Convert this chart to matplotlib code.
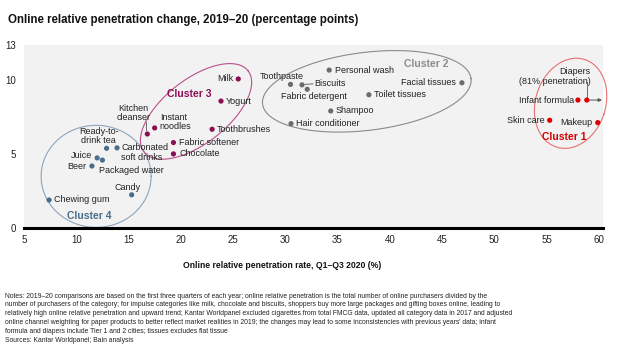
import matplotlib
matplotlib.use("Agg")
import matplotlib.pyplot as plt
import numpy as np

plt.rcParams['font.family'] = ['Liberation Sans', 'DejaVu Sans']

# ---------------- data ----------------
names = ["Chewing gum", "Candy", "Beer", "Juice", "Packaged water",
         "Ready-to-\ndrink tea", "Carbonated\nsoft drinks",
         "Kitchen\ncleanser", "Instant\nnoodles", "Fabric softener", "Chocolate",
         "Toothbrushes", "Yogurt", "Milk",
         "Toothpaste", "Biscuits", "Fabric detergent", "Personal wash",
         "Hair conditioner", "Shampoo", "Toilet tissues", "Facial tissues",
         "Infant formula", "Diapers\n(81% penetration)", "Skin care", "Makeup"]
penetration_rate = [7.4, 15.3, 11.5, 12.0, 12.5, 12.9, 13.9,
                    16.8, 17.5, 19.3, 19.3, 23.0, 23.85, 25.5,
                    30.5, 31.6, 32.1, 34.2, 30.55, 34.35, 38.0, 46.9,
                    58.0, 58.85, 55.3, 59.9]
penetration_change = [1.9, 2.25, 4.2, 4.75, 4.6, 5.4, 5.43,
                      6.37, 6.78, 5.79, 5.02, 6.69, 8.6, 10.1,
                      9.73, 9.7, 9.4, 10.7, 7.07, 7.93, 9.03, 9.84,
                      8.67, 8.67, 7.3, 7.14]
cluster = [4, 4, 4, 4, 4, 4, 4,
           3, 3, 3, 3, 3, 3, 3,
           2, 2, 2, 2, 2, 2, 2, 2,
           1, 1, 1, 1]
cluster_names = {1: "Cluster 1", 2: "Cluster 2", 3: "Cluster 3", 4: "Cluster 4"}

xticks = [5, 10, 15, 20, 25, 30, 35, 40, 45, 50, 55, 60]
ytick_pos = [0, 5, 10, 12.4]
ytick_labels = ["0", "5", "10", "13"]

title = "Online relative penetration change, 2019\u201320 (percentage points)"
xlabel = "Online relative penetration rate, Q1\u2013Q3 2020 (%)"
notes = [
    "Notes: 2019\u201320 comparisons are based on the first three quarters of each year; online relative penetration is the total number of online purchasers divided by the",
    "number of purchasers of the category; for impulse categories like milk, chocolate and biscuits, shoppers buy more large packages and gifting boxes online, leading to",
    "relatively high online relative penetration and upward trend; Kantar Worldpanel excluded cigarettes from total FMCG data, updated all category data in 2017 and adjusted",
    "online channel weighting for paper products to better reflect market realities in 2019; the changes may lead to some inconsistencies with previous years' data; infant",
    "formula and diapers include Tier 1 and 2 cities; tissues excludes flat tissue",
    "Sources: Kantar Worldpanel; Bain analysis",
]

# ---------------- styles ----------------
dot_colors = {1: "#e00000", 2: "#6b6b6b", 3: "#8c0f55", 4: "#4a6e8a"}
edge_colors = {1: "#e87070", 2: "#8a8a8a", 3: "#b8508a", 4: "#8ca5bd"}
clabel_colors = {1: "#d40000", 2: "#8c8c8c", 3: "#8c0f55", 4: "#4a6e8a"}

# label offsets in pixels (dx, dy up), ha
label_style = {
    "Chewing gum": (5, 0, "left"),
    "Candy": (-4, 7, "center"),
    "Beer": (-6, 0, "right"),
    "Juice": (-5, 2, "right"),
    "Packaged water": (-3, -10, "left"),
    "Ready-to-\ndrink tea": (-8, 12.5, "center"),
    "Carbonated\nsoft drinks": (4, -4.5, "left"),
    "Kitchen\ncleanser": (-14, 21, "center"),
    "Instant\nnoodles": (5, 5.7, "left"),
    "Fabric softener": (6, 0, "left"),
    "Chocolate": (6, 0, "left"),
    "Toothbrushes": (5, 0, "left"),
    "Yogurt": (5, 0, "left"),
    "Milk": (-5, 0, "right"),
    "Toothpaste": (-9, 8, "center"),
    "Biscuits": (12, 1, "left"),
    "Fabric detergent": (7, -7, "center"),
    "Personal wash": (5.5, 0, "left"),
    "Hair conditioner": (5.3, 0, "left"),
    "Shampoo": (5.3, 0, "left"),
    "Toilet tissues": (5.3, 0, "left"),
    "Facial tissues": (-6, 0, "right"),
    "Infant formula": (-4, 0, "right"),
    "Diapers\n(81% penetration)": (4, 23.5, "right"),
    "Skin care": (-5, 0, "right"),
    "Makeup": (-5, 0, "right"),
}

# ellipses: center (data), semi-axes in pixels, angle deg
ellipses = {
    4: ((11.9, 3.5), 55, 51, 0),
    3: ((21.46, 7.9), 66, 32, 38),
    2: ((37.8, 9.26), 105, 39, 7),
    1: ((57.3, 8.45), 35, 46, -18),
}
cluster_label_pos = {4: (11.2, 0.81), 3: (20.8, 9.05), 2: (43.5, 11.13), 1: (56.7, 6.2)}

W, H = 618, 358
fig = plt.figure(figsize=(W / 100, H / 100), dpi=100)
ax_l, ax_r, ax_b, ax_t = 24, 603, 130, 313
ax = fig.add_axes([ax_l / W, ax_b / H, (ax_r - ax_l) / W, (ax_t - ax_b) / H])
ax.set_facecolor("#f2f2f2")
ax.set_xlim(5, 60.4)
ax.set_ylim(0, 12.4)
kx = (ax_r - ax_l) / (60.4 - 5)
ky = (ax_t - ax_b) / 12.4

for s in ["top", "right", "left"]:
    ax.spines[s].set_visible(False)
ax.spines["bottom"].set_linewidth(2.2)
ax.spines["bottom"].set_color("black")
ax.set_xticks(xticks)
ax.set_xticklabels([str(t) for t in xticks], fontsize=7, color="#222222")
ax.set_yticks(ytick_pos)
ax.set_yticklabels(ytick_labels, fontsize=7, color="#222222")
ax.tick_params(axis="both", length=0)
ax.tick_params(axis="x", pad=5)
ax.tick_params(axis="y", pad=6)

# ellipses
t = np.linspace(0, 2 * np.pi, 300)
for c, ((cx, cy), a, b, ang) in ellipses.items():
    th = np.deg2rad(ang)
    px = a * np.cos(t) * np.cos(th) - b * np.sin(t) * np.sin(th)
    py = a * np.cos(t) * np.sin(th) + b * np.sin(t) * np.cos(th)
    ax.plot(cx + px / kx, cy + py / ky, color=edge_colors[c], lw=0.8, clip_on=False, zorder=2)
    lx, ly = cluster_label_pos[c]
    ax.text(lx, ly, cluster_names[c], color=clabel_colors[c], fontsize=7.5,
            fontweight="bold", ha="center", va="center", zorder=4)

# points
xs = np.array(penetration_rate)
ys = np.array(penetration_change)
cs = [dot_colors[c] for c in cluster]
ax.scatter(xs, ys, s=14, c=cs, zorder=5, linewidths=0, clip_on=False)

for n, x, y in zip(names, xs, ys):
    dx, dy, ha = label_style[n]
    ax.annotate(n, (x, y), xytext=(dx, dy), textcoords="offset pixels",
                ha=ha, va="center", fontsize=6.5, color="#222222",
                linespacing=1.05, zorder=6)

# leader lines
def leader(x, y, p0, p1):
    ax.plot([x + p0[0] / kx, x + p1[0] / kx], [y + p0[1] / ky, y + p1[1] / ky],
            color="#555555", lw=0.6, zorder=4, clip_on=False)

i = names.index("Kitchen\ncleanser")
leader(xs[i], ys[i], (-1, 4), (-1, 12))
i = names.index("Biscuits")
leader(xs[i], ys[i], (3, 0.5), (11, 1))
i = names.index("Diapers\n(81% penetration)")
leader(xs[i], ys[i], (0.5, 3), (0.5, 18))
ax.annotate("", xy=(60.3, ys[i]), xytext=(xs[i] + 2 / kx, ys[i]),
            arrowprops=dict(arrowstyle="-|>", color="#555555", lw=0.7,
                            mutation_scale=5, shrinkA=0, shrinkB=0),
            annotation_clip=False, zorder=4)

# titles
fig.text(8 / W, 1 - 20 / H, title, fontsize=8.3, fontweight="bold", ha="left", va="center", color="#111111")
fig.text(282 / W, 1 - 266 / H, xlabel, fontsize=6.2, fontweight="bold", ha="center", va="center", color="#111111")
for k, line in enumerate(notes):
    fig.text(5 / W, 1 - (296 + 8.85 * k) / H, line, fontsize=4.85, ha="left", va="center", color="#222222")

fig.savefig("out.png", dpi=100)
